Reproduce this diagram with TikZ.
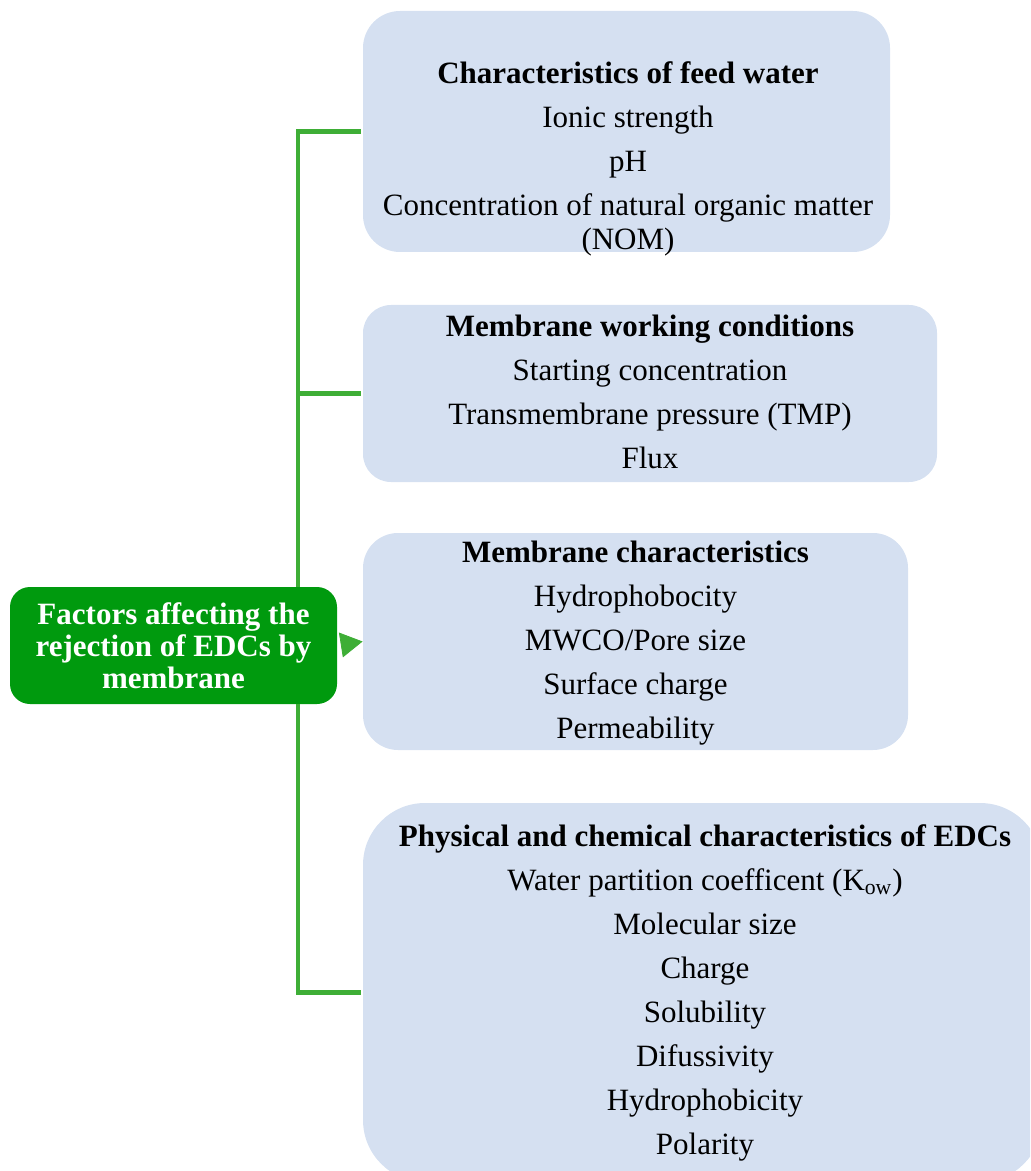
\documentclass[tikz,border=0pt]{standalone}
\usepackage{fontspec}
\setmainfont{Liberation Serif}
\usetikzlibrary{arrows.meta, positioning}
\definecolor{panelblue}{RGB}{213,224,241}
\definecolor{rootgreen}{RGB}{0,154,14}
\definecolor{linkgreen}{RGB}{62,174,54}
\tikzset{
	panel/.style = {fill=panelblue, inner sep=0pt},
	items/.style = {align=center, inner sep=0pt, anchor=north, font=\fontsize{15.5}{17}\selectfont},
	root/.style = {fill=rootgreen, rounded corners=10pt, text=white, align=center, inner sep=0pt,
		font=\bfseries\fontsize{15.5}{16}\selectfont, minimum width=163.5pt, minimum height=58.5pt},
	branch/.style = {draw=linkgreen, line width=2.2pt, shorten >=1pt},
	pointer/.style = {draw=linkgreen, fill=linkgreen, line width=0.4pt, shorten <=2pt,
		-{Triangle[length=11pt, width=12.5pt]}}
}

\begin{document}
\begin{tikzpicture}[x=0.5pt, y=-0.5pt]
		\path[use as bounding box, clip] (0,0) rectangle (1030,1171);
		
		% Root
		\node[root] (factors) at (173.5,645.5) {Factors affecting the\\rejection of EDCs by\\membrane};
		
		% Panels
		\node[panel, minimum width=263.5pt, minimum height=120.5pt, rounded corners=18.5pt] (feed) at (626.5,131.5) {};
		\node[panel, minimum width=287pt, minimum height=88.5pt, rounded corners=14pt] (working) at (650,393.5) {};
		\node[panel, minimum width=272.5pt, minimum height=108.5pt, rounded corners=17.5pt] (membrane) at (635.5,641.5) {};
		\node[panel, minimum width=339.5pt, minimum height=189.5pt, rounded corners=31pt] (edcs) at (702.5,992.5) {};
		
		\node[items] (feedtxt) at (628,61) {\textbf{Characteristics of feed water}\\[5pt]
			Ionic strength\\[5pt] pH\\[5pt] Concentration of natural organic matter\\(NOM)};
		\node[items] (workingtxt) at (650,315) {\textbf{Membrane working conditions}\\[5pt]
			Starting concentration\\[5pt] Transmembrane pressure (TMP)\\[5pt] Flux};
		\node[items] (membranetxt) at (635.5,541) {\textbf{Membrane characteristics}\\[5pt]
			Hydrophobocity\\[5pt] MWCO/Pore size\\[5pt] Surface charge\\[5pt] Permeability};
		\node[items] (edcstxt) at (705,824) {\textbf{Physical and chemical characteristics of EDCs}\\[5pt]
			Water partition coefficent (K\textsubscript{ow})\\[5pt] Molecular size\\[5pt] Charge\\[5pt]
			Solubility\\[5pt] Difussivity\\[5pt] Hydrophobicity\\[5pt] Polarity};
		
		% Connectors
		\coordinate (trunk) at (298,0);
		\draw[branch] (factors.north -| trunk) |- (feed.west);
		\draw[branch] (factors.north -| trunk) |- (working.west);
		\draw[branch] (factors.south -| trunk) |- (edcs.west);
		\draw[pointer] (factors.east) -- (membrane.west);
\end{tikzpicture}
\end{document}
